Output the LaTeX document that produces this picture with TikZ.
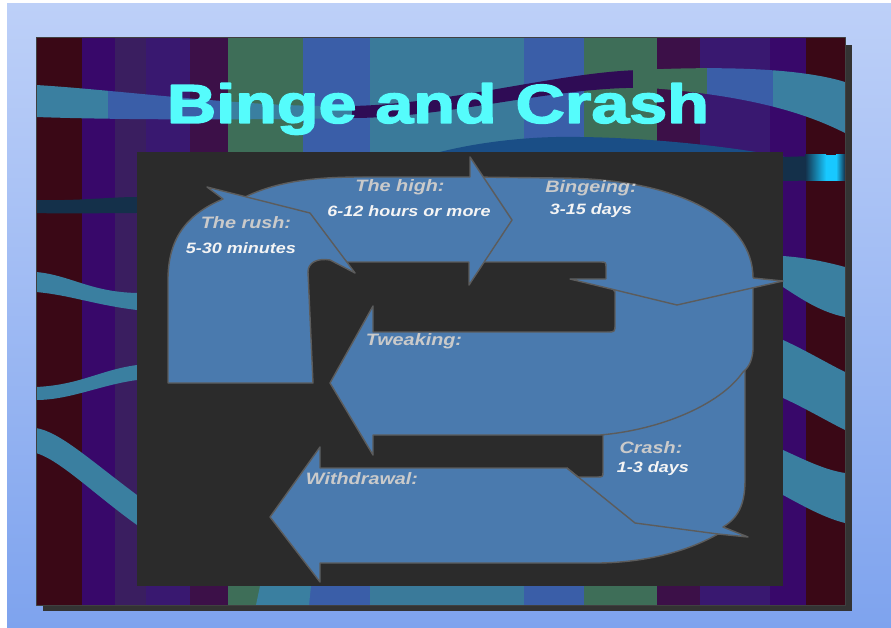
\documentclass[tikz,border=0pt]{standalone}
\usepackage{fontspec}
\setmainfont{Liberation Sans}
\newfontfamily\titlefont[FakeBold=2.5]{Liberation Sans Bold}
\definecolor{skytop}{HTML}{BDD0F8}
\definecolor{skybottom}{HTML}{7EA3EE}
\definecolor{shadowgray}{HTML}{333333}
\definecolor{stripemaroon}{HTML}{3A0816}
\definecolor{stripepurple}{HTML}{38086A}
\definecolor{stripeviolet}{HTML}{3A1E60}
\definecolor{stripeindigo}{HTML}{391870}
\definecolor{stripeplum}{HTML}{3C1048}
\definecolor{stripegreen}{HTML}{3E6E58}
\definecolor{stripeblue}{HTML}{3A5EA8}
\definecolor{stripeteal}{HTML}{3A7A9A}
\definecolor{bandteal}{HTML}{3A7FA0}
\definecolor{banddark}{HTML}{2F0C55}
\definecolor{bandnavy}{HTML}{14304A}
\definecolor{arcblue}{HTML}{1A4E86}
\definecolor{glowcyan}{HTML}{18C8FF}
\definecolor{boardgray}{HTML}{2B2B2B}
\definecolor{arrowblue}{HTML}{4A7AAE}
\definecolor{edgegray}{HTML}{5C5C5C}
\definecolor{titlecyan}{HTML}{55FCFC}
\definecolor{headgray}{HTML}{CACACA}
\definecolor{valuewhite}{HTML}{F4F4F4}
\newcommand{\widetxt}[2][1.2]{\scalebox{#1}[1]{#2}}

\begin{document}
\begin{tikzpicture}[x=1pt, y=-1pt, line join=round,
  blockarrow/.style={fill=arrowblue, draw=edgegray, line width=1.4pt},
  edgeline/.style={draw=edgegray, line width=1.4pt},
  phaselabel/.style={text=headgray, inner sep=0pt, font=\fontsize{16.5}{18}\selectfont\bfseries\itshape},
  durlabel/.style={text=valuewhite, inner sep=0pt, font=\fontsize{15}{17}\selectfont\bfseries\itshape}]
  \useasboundingbox (0,0) rectangle (891,628);

  % sky
  \fill[white] (0,0) rectangle (891,628);
  \shade[top color=skytop, bottom color=skybottom] (7,4) rectangle (891,628);
  \shade[top color=skytop, middle color=skytop!35!white, bottom color=skybottom] (7,4) rectangle (36,628);

  % panel with stripes
  \fill[shadowgray] (43,45) rectangle (852,611);
  \foreach \xa/\xb/\col in {36/82/stripemaroon, 82/115/stripepurple, 115/146/stripeviolet,
      146/190/stripeindigo, 190/228/stripeplum, 228/303/stripegreen, 303/370/stripeblue,
      370/524/stripeteal, 524/584/stripeblue, 584/657/stripegreen, 657/700/stripeplum,
      700/770/stripeindigo, 770/806/stripepurple, 806/845/stripemaroon}
    \fill[\col] (\xa,38) rectangle (\xb,605);

  % waves
  \begin{scope}
    \clip (36,85) .. controls (120,90) and (250,108) .. (352,106)
      .. controls (450,104) and (560,72) .. (640,70)
      .. controls (720,66) and (800,68) .. (845,82) -- (845,133)
      .. controls (800,110) and (740,95) .. (650,88)
      .. controls (560,85) and (450,118) .. (352,118)
      .. controls (250,120) and (120,120) .. (36,117) -- cycle;
    \foreach \xa/\xb/\col in {36/108/bandteal, 108/228/stripeblue, 228/352/bandteal,
        352/633/banddark, 633/707/stripegreen, 707/773/stripeblue, 773/845/bandteal}
      \fill[\col] (\xa,60) rectangle (\xb,140);
  \end{scope}
  \fill[arcblue] (425,156) .. controls (480,140) and (540,136) .. (580,137)
    .. controls (660,138) and (740,148) .. (790,158) -- cycle;
  \fill[bandnavy] (36,200) .. controls (80,201) and (110,197) .. (137,197)
    -- (137,213) .. controls (100,213) and (70,214) .. (36,213) -- cycle;
  \fill[bandnavy] (783,157) -- (845,155) -- (845,180) -- (783,181) -- cycle;
  \shade[left color=bandnavy, right color=glowcyan] (805,155) rectangle (826,181);
  \fill[glowcyan] (826,155) rectangle (836,181);
  \shade[left color=glowcyan, right color=bandnavy] (836,155) rectangle (845,181);
  \fill[bandteal] (36,272) .. controls (70,275) and (90,292) .. (137,293)
    -- (137,310) .. controls (95,305) and (70,295) .. (36,292) -- cycle;
  \fill[bandteal] (36,387) .. controls (80,385) and (100,370) .. (137,365)
    -- (137,380) .. controls (100,385) and (70,400) .. (36,400) -- cycle;
  \fill[bandteal] (36,428) .. controls (60,432) and (90,460) .. (137,495)
    -- (137,525) .. controls (95,495) and (60,460) .. (36,453) -- cycle;
  \fill[bandteal] (783,256) .. controls (810,258) and (830,263) .. (845,267)
    -- (845,317) .. controls (820,312) and (800,298) .. (783,287) -- cycle;
  \fill[bandteal] (783,340) .. controls (805,350) and (825,362) .. (845,372)
    -- (845,430) .. controls (825,420) and (805,408) .. (783,398) -- cycle;
  \fill[bandteal] (783,450) .. controls (805,460) and (825,470) .. (845,473)
    -- (845,523) .. controls (825,518) and (805,507) .. (783,495) -- cycle;
  \fill[bandteal] (256,605) -- (260,586) -- (311,586) -- (309,605) -- cycle;
  \draw[black!75, line width=1pt] (36,38) rectangle (845,605);

  % board
  \fill[boardgray] (137,152) rectangle (783,586);

  % crash and withdrawal
  \filldraw[blockarrow] (745,345) -- (745,480) .. controls (745,505) and (738,518) .. (723,527)
    -- (748,537) -- (718,534) .. controls (690,550) and (650,562) .. (600,563)
    -- (320,563) -- (320,582) -- (270,517) -- (320,447) -- (320,468) -- (567,468)
    -- (578,477) -- (597,477) .. controls (603,477) .. (603,471) -- (603,435) -- cycle;
  \draw[edgeline] (567,468) -- (635,523) -- (718,534);

  % bingeing and tweaking
  \filldraw[blockarrow] (470,177) -- (557,178) .. controls (680,178) and (753,220) .. (753,278)
    -- (753,350) .. controls (752,362) and (748,368) .. (743,372)
    .. controls (720,405) and (660,430) .. (600,435) -- (373,435) -- (373,455)
    -- (330,383) -- (373,306) -- (373,332) -- (607,332) .. controls (615,332) .. (615,324)
    -- (615,292) -- (606,279) -- (606,268) .. controls (606,262) .. (600,262)
    -- (470,262) -- cycle;
  \filldraw[blockarrow] (753,278) -- (783,281) -- (677,305) -- (570,279) -- (606,279);

  % the high
  \filldraw[blockarrow] (245,197) .. controls (280,180) and (320,177) .. (363,177)
    -- (470,177) -- (470,157) -- (512,220) -- (469,285) -- (469,262) -- (347,262)
    -- (300,230) -- cycle;

  % the rush
  \filldraw[blockarrow] (168,383) -- (168,280) .. controls (168,240) and (185,215) .. (223,199)
    -- (207,187) -- (310,213) -- (355,273) -- (330,260)
    .. controls (318,258) and (308,262) .. (308,272) -- (313,383) -- cycle;

  % labels
  \node[phaselabel] (rushlbl) at (246,223) {\widetxt{The rush:}};
  \node[durlabel] (rushtime) at (241,248) {\widetxt{5-30 minutes}};
  \node[phaselabel] (highlbl) at (400,187) {\widetxt{The high:}};
  \node[durlabel] (hightime) at (409,211) {\widetxt{6-12 hours or more}};
  \node[phaselabel] (bingelbl) at (591,188) {\widetxt{Bingeing:}};
  \node[durlabel] (bingetime) at (591,211) {\widetxt{3-15 days}};
  \node[phaselabel] (tweaklbl) at (414,341) {\widetxt{Tweaking:}};
  \node[phaselabel] (withdrawlbl) at (362,479) {\widetxt{Withdrawal:}};
  \node[phaselabel] (crashlbl) at (651,448) {\widetxt{Crash:}};
  \node[durlabel] (crashtime) at (653,469) {\widetxt{1-3 days}};

  % title
  \node[text=titlecyan, anchor=base, inner sep=0pt, font=\titlefont\fontsize{55}{60}\selectfont]
    (title) at (438,123) {\widetxt[1.24]{Binge and Crash}};
\end{tikzpicture}
\end{document}
